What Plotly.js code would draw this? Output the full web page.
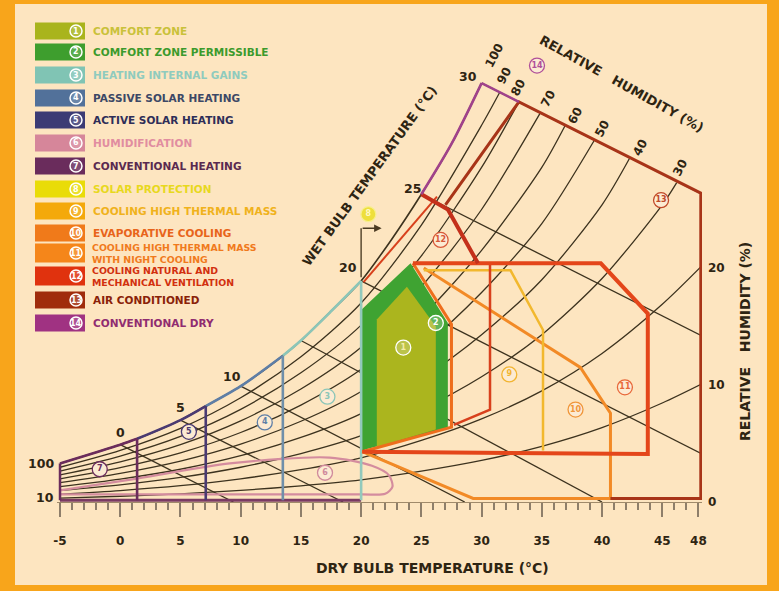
<!DOCTYPE html>
<html><head><meta charset="utf-8">
<script src="https://cdn.plot.ly/plotly-3.0.1.min.js"></script>
<style>
html,body{margin:0;padding:0;background:#F8A51B;width:779px;height:591px;overflow:hidden}
#chart{position:absolute;left:15px;top:4px;width:752px;height:581px}
</style></head><body><div id="chart"></div>
<script>
// ---------- DATA ----------
// x: dry bulb temperature (°C); y: humidity on the chart scale
const xTickVals = [-5,0,5,10,15,20,25,30,35,40,45,48];
const xTickText = ['-5','0','5','10','15','20','25','30','35','40','45','48'];
const yTickVals = [0,10,20];
const yTickText = ['0','10','20'];

// saturation (100 %) curve
const satT = [-5,0,1.4,5,7.1,10,13.5,15,17.5,20,22.5,25,27.5,30];
const satW = [3.3,4.9,5.4,7.0,8.2,9.9,12.5,13.8,16.3,18.9,22.4,26.3,30.6,35.8];

// relative humidity curves 90 ... 10 %
const rhLevels = [90,80,70,60,50,40,30,20,10];
const rhT = [
 [-5,0,5,10,15,20,25,30,31.5],
 [-5,0,5,10,15,20,25,30,33.1],
 [-5,0,5,10,15,20,25,30,34.9],
 [-5,0,5,10,15,20,25,30,35,36.95],
 [-5,0,5,10,15,20,25,30,35,39.35],
 [-5,0,5,10,15,20,25,30,35,40,42.3],
 [-5,0,5,10,15,20,25,30,35,40,45,46.2],
 [-5,0,5,10,15,20,25,30,35,40,45,48.3],
 [-5,0,5,10,15,20,25,30,35,40,45,48.3]];
const rhW = [
 [2.97,4.41,6.3,8.91,12.42,17.01,23.67,32.2,35.0],
 [2.64,3.92,5.6,7.92,11.04,15.12,21.04,28.6,34.2],
 [2.31,3.43,4.9,6.93,9.66,13.23,18.41,25.0,33.3],
 [1.98,2.94,4.2,5.94,8.28,11.34,15.78,21.5,28.6,32.2],
 [1.65,2.45,3.5,4.95,6.9,9.45,13.15,17.9,23.8,30.9],
 [1.32,1.96,2.8,3.96,5.52,7.56,10.52,14.3,19.0,25.4,29.4],
 [0.99,1.47,2.1,2.97,4.14,5.67,7.89,10.7,14.3,19.1,25.4,27.3],
 [0.66,0.98,1.4,1.98,2.76,3.78,5.26,7.1,9.5,12.7,16.9,20.2],
 [0.33,0.49,0.7,0.99,1.38,1.89,2.63,3.55,4.76,6.36,8.46,10.1]];

// wet bulb lines 0,5,...,30 (start on saturation curve, end at bottom / right edge)
const wbLabels = ['0','5','10','15','20','25','30'];
const wbT0 = [0,5,10,15,20,25,30];
const wbW0 = [4.9,7.0,9.9,13.8,18.9,26.3,35.8];
const wbT1 = [9.4,18.5,28.6,40.0,48.3,48.3,48.3];
const wbW1 = [0,0,0,0,4.1,14.2,26.3];

// zones
const z1T = [21.3,23.8,26.2,26.2,21.3];        const z1W = [15.6,18.4,15.0,6.2,4.7];
const z2T = [20,24.1,27.2,27.2,20];            const z2W = [16.4,20.4,15.3,6.3,4.4];
const zcT = [24.3,27.5,27.5,20.1];             const zcW = [20.4,15.2,6.4,4.3];
const z9T = [25.2,32.4,35.1,35.1];             const z9W = [19.8,19.8,14.7,4.4];
const z10T = [20.1,29.3,40.7,40.7,38.2,25.2];  const z10W = [4.3,0.3,0.3,7.6,11.5,20.0];
const z11T = [24.3,39.9,43.8,43.8,20.1];       const z11W = [20.4,20.4,16.1,4.1,4.3];
const z12aT = [20.2,26.3];                     const z12aW = [18.8,26.1];
const z12bT = [27.7,30.7,30.7];                const z12bW = [6.6,7.9,20.4];
const z12cT = [25,27.2,29.7];                  const z12cW = [26.3,25.0,20.4];
const z13T = [27.0,33.1,48.2,48.2,40.7];       const z13W = [25.4,34.2,26.4,0.3,0.3];
const z14T = [30,33.1];                        const z14W = [35.8,34.2];
const z6T = [-5,1.4,9.1,17.4,20.9,22.3,22.6,22.0,20,-5];
const z6W = [1.0,2.0,3.3,3.8,3.1,2.3,1.3,0.7,0.65,0.65];
const heatT = [1.4,7.1,13.5,20];               const heatW = [5.4,8.2,12.5,18.9];
const z8T = [20,20];                           const z8W = [19.2,23.4];

// zone number labels
const labelNum = ['1','2','3','4','5','6','7','8','9','10','11','12','13','14'];
const labelT = [23.5,26.2,17.2,12.0,5.7,17.0,-1.7,20.6,32.3,37.8,41.9,26.6,44.9,34.6];
const labelW = [13.2,15.3,9.0,6.8,6.0,2.5,2.8,24.6,10.9,7.9,9.8,22.4,25.8,37.3];

// legend
const legendLine1 = ['COMFORT ZONE','COMFORT ZONE PERMISSIBLE','HEATING INTERNAL GAINS','PASSIVE SOLAR HEATING',
 'ACTIVE SOLAR HEATING','HUMIDIFICATION','CONVENTIONAL HEATING','SOLAR PROTECTION','COOLING HIGH THERMAL MASS',
 'EVAPORATIVE COOLING','COOLING HIGH THERMAL MASS','COOLING NATURAL AND','AIR CONDITIONED','CONVENTIONAL DRY'];
const legendLine2 = ['','','','','','','','','','','WITH NIGHT COOLING','MECHANICAL VENTILATION','',''];
const legendFill = ['#A9B41C','#3E9E2E','#80C4B4','#52719A','#3C3B74','#D6869A','#6A2C5C','#E9DC08','#F4A90A',
 '#F07A1A','#F5861A','#E0320E','#A02C0C','#A03282'];
const legendTextColor = ['#C9C13A','#3C9A2C','#8FCBBE','#3C4866','#2E2E58','#E18DA0','#5A2A50','#E8D81E','#F0B21C',
 '#E8641A','#F07A1C','#D2300E','#8A2208','#902C70'];

// ---------- PLOT ----------
const FONT = 'DejaVu Sans, Liberation Sans, Arial, sans-serif';
const DARK = '#2E2412';
const GRID = '#3C321E';
const X0PX = 57, PW = 645, Y0PX = 502, PH = 468;     // plot area on the page
const fx = px => (px - X0PX) / PW;
const fy = py => (Y0PX - py) / PH;

function ln(T, W, color, width, shape) {
  return {type:'scatter', mode:'lines', x:T, y:W, hoverinfo:'skip',
          line:{color:color, width:width, shape:shape || 'linear', smoothing:0.8}};
}
const traces = [];
// RH grid curves
rhLevels.forEach((lv, i) => traces.push(ln(rhT[i], rhW[i], GRID, 1.3, 'spline')));
// wet bulb lines
wbT0.forEach((t, i) => traces.push(ln([t, wbT1[i]], [wbW0[i], wbW1[i]], GRID, 1.3)));
// saturation curve
traces.push(ln(satT, satW, GRID, 1.6, 'spline'));
// comfort zones (filled)
traces.push({type:'scatter', mode:'lines', x:z2T, y:z2W, fill:'toself', fillcolor:'#3FA332',
             line:{width:0, color:'#3FA332'}, hoverinfo:'skip'});
traces.push({type:'scatter', mode:'lines', x:z1T, y:z1W, fill:'toself', fillcolor:'#ABB51E',
             line:{width:0, color:'#ABB51E'}, hoverinfo:'skip'});
// heating zones
traces.push(ln(z6T, z6W, '#D48C9E', 2.2, 'spline'));
traces.push(ln([-5,20], [0.15,0.15], '#7A3A62', 3));
traces.push(ln([-5,-5], [0.15,satW[0]], '#6B2C5C', 2.5));
traces.push(ln(satT.slice(0,3), satW.slice(0,3), '#6B2C5C', 2.6, 'spline'));
traces.push(ln(satT.slice(2,5), satW.slice(2,5), '#4A3A72', 2.6, 'spline'));
traces.push(ln(satT.slice(4,7), satW.slice(4,7), '#5E7EA6', 2.6, 'spline'));
traces.push(ln(satT.slice(6,10), satW.slice(6,10), '#8CC6B8', 2.6, 'spline'));
const heatColors = ['#6B2C5C','#4A3A72','#6F8FAA','#92C9BC'];
heatT.forEach((t, i) => traces.push(ln([t,t], [heatW[i],0.15], heatColors[i], 2.6)));
// cooling zones
traces.push(ln(z10T, z10W, '#F28A26', 3));
traces.push(ln(z9T, z9W, '#F2B82E', 2.5));
traces.push(ln(zcT, zcW, '#EE6E1C', 3));
traces.push(ln(z12aT, z12aW, '#D8401C', 2));
traces.push(ln(z12bT, z12bW, '#D8401C', 2.5));
traces.push(ln(z11T, z11W, '#E4461A', 4));
traces.push(ln(z12cT, z12cW, '#C4301A', 4));
traces.push(ln(z13T, z13W, '#A83418', 3));
traces.push(ln(satT.slice(11), satW.slice(11), '#A0428A', 2.6, 'spline'));
traces.push(ln(z14T, z14W, '#A0428A', 2.6));
traces.push(ln(z8T, z8W, '#5A4A30', 1.5));
// zone number circles
const labelLine = ['#FFFFFF','#FFFFFF','#8CC6B8','#5E7EA6','#4A3A72','#D08A9C','#6B2C5C','#F7EE90','#F2B430',
                   '#F0963A','#E8683A','#D85838','#C04828','#B0509A'];
const labelFill = ['rgba(255,255,255,0.2)','rgba(255,255,255,0.2)','#FCEBD3','#FCEBD3','#FCEBD3','#FCEBD3',
                   '#FCEBD3','#EEDF3C','#FCEBD3','#FCEBD3','#FCEBD3','#FCEBD3','#FCEBD3','#FCEBD3'];
const labelTextC = ['#F4ECA8','#FFFFFF','#8CC6B8','#5E7EA6','#4A3A72','#D08A9C','#6B2C5C','#FFF8C8','#F2B430',
                    '#F0963A','#E8683A','#D85838','#C04828','#B0509A'];
traces.push({type:'scatter', mode:'markers+text', x:labelT, y:labelW, text:labelNum,
  textposition:'middle center', hoverinfo:'skip', cliponaxis:false,
  marker:{size:15, color:labelFill, line:{color:labelLine, width:1.3}},
  textfont:{family:FONT, size:8, color:labelTextC, weight:700}});

// ---------- decorations ----------
const shapes = [];
const annotations = [];
const rowC = [31,52,75,98,120,143,166,189,211,233,253,276,300,323];
rowC.forEach((c, i) => {
  const h = (i === 10 || i === 11) ? 9.5 : 8.5;
  shapes.push({type:'rect', xref:'paper', yref:'paper', x0:fx(35), x1:fx(85), y0:fy(c+h), y1:fy(c-h),
               fillcolor:legendFill[i], line:{width:0}, layer:'above'});
  shapes.push({type:'circle', xref:'paper', yref:'paper', x0:fx(70), x1:fx(82), y0:fy(c+6), y1:fy(c-6),
               fillcolor:'rgba(255,255,255,0.15)', line:{color:'#FFFFFF', width:1.5}, layer:'above'});
  annotations.push({xref:'paper', yref:'paper', x:fx(76), y:fy(c), text:String(i+1), showarrow:false,
                    xanchor:'center', yanchor:'middle', font:{family:FONT, size:8, color:'#FFFFFF', weight:700}});
  if (legendLine2[i]) {
    annotations.push({xref:'paper', yref:'paper', x:fx(91), y:fy(c), text:legendLine1[i] + '<br>' + legendLine2[i],
      showarrow:false, xanchor:'left', yanchor:'middle', align:'left', borderpad:0,
      font:{family:FONT, size:9.4, color:legendTextColor[i], weight:700}});
  } else {
    annotations.push({xref:'paper', yref:'paper', x:fx(91), y:fy(c), text:legendLine1[i], showarrow:false,
      xanchor:'left', yanchor:'middle', font:{family:FONT, size:10.5, color:legendTextColor[i], weight:700}});
  }
});
function txt(px, py, s, size, angle, anchor) {
  annotations.push({xref:'paper', yref:'paper', x:fx(px), y:fy(py), text:s, showarrow:false,
    xanchor:anchor || 'center', yanchor:'middle', textangle:angle || 0,
    font:{family:FONT, size:size, color:DARK, weight:700}});
}
// RH labels at left
txt(56, 463, '100', 12.5, 0, 'right');
txt(56, 497, '10', 12.5, 0, 'right');
// wet bulb labels
txt(120, 432, '0', 12.5); txt(180, 407, '5', 12.5); txt(232, 376, '10', 12.5);
txt(348, 267, '20', 12.5); txt(412, 188, '25', 12.5); txt(468, 76, '30', 12.5);
// RH labels at top
const topRH = ['100','90','80','70','60','50','40','30'];
const topPX = [494,504,518,548,575,602,640,680];
const topPY = [56,76,88,99,116,129,148,168];
topRH.forEach((s, i) => txt(topPX[i], topPY[i], s, 12, -62));
// titles
txt(621, 84, 'RELATIVE &nbsp; HUMIDITY (%)', 13, 29);
txt(369, 176, 'WET BULB TEMPERATURE (°C)', 13, -54);
txt(432, 568, 'DRY BULB TEMPERATURE (°C)', 14);
txt(745, 342, 'RELATIVE &nbsp; HUMIDITY (%)', 14, -90);
// solar protection arrow
annotations.push({xref:'x', yref:'y', x:21.7, y:z8W[1], axref:'x', ayref:'y', ax:z8T[1], ay:z8W[1],
  text:'', showarrow:true, arrowhead:2, arrowsize:1, arrowwidth:1.5, arrowcolor:'#4A3A22'});

const layout = {
  width:752, height:581,
  margin:{l:42, r:65, t:30, b:83, pad:0},
  paper_bgcolor:'#FDE5C0', plot_bgcolor:'#FDE5C0',
  showlegend:false, hovermode:false,
  font:{family:FONT, color:DARK},
  xaxis:{range:[-5.25,48.3], tickmode:'array', tickvals:xTickVals, ticktext:xTickText,
    ticks:'outside', ticklen:14, tickwidth:2, tickcolor:'#8E7E6A', ticklabelstandoff:14,
    showgrid:false, zeroline:false, showline:true, linecolor:'#A08A6A', linewidth:1,
    tickfont:{family:FONT, size:12, color:DARK, weight:700}, fixedrange:true,
    minor:{tickmode:'linear', tick0:-5, dtick:1, ticks:'outside', ticklen:7, tickwidth:2,
           tickcolor:'#8E7E6A', showgrid:false}},
  yaxis:{range:[0,40], side:'right', tickmode:'array', tickvals:yTickVals, ticktext:yTickText,
    ticks:'', showgrid:false, zeroline:false, showline:false, ticklabelstandoff:5,
    tickfont:{family:FONT, size:12, color:DARK, weight:700}, fixedrange:true},
  shapes:shapes, annotations:annotations
};
Plotly.newPlot('chart', traces, layout, {displayModeBar:false, staticPlot:true});
</script></body></html>
